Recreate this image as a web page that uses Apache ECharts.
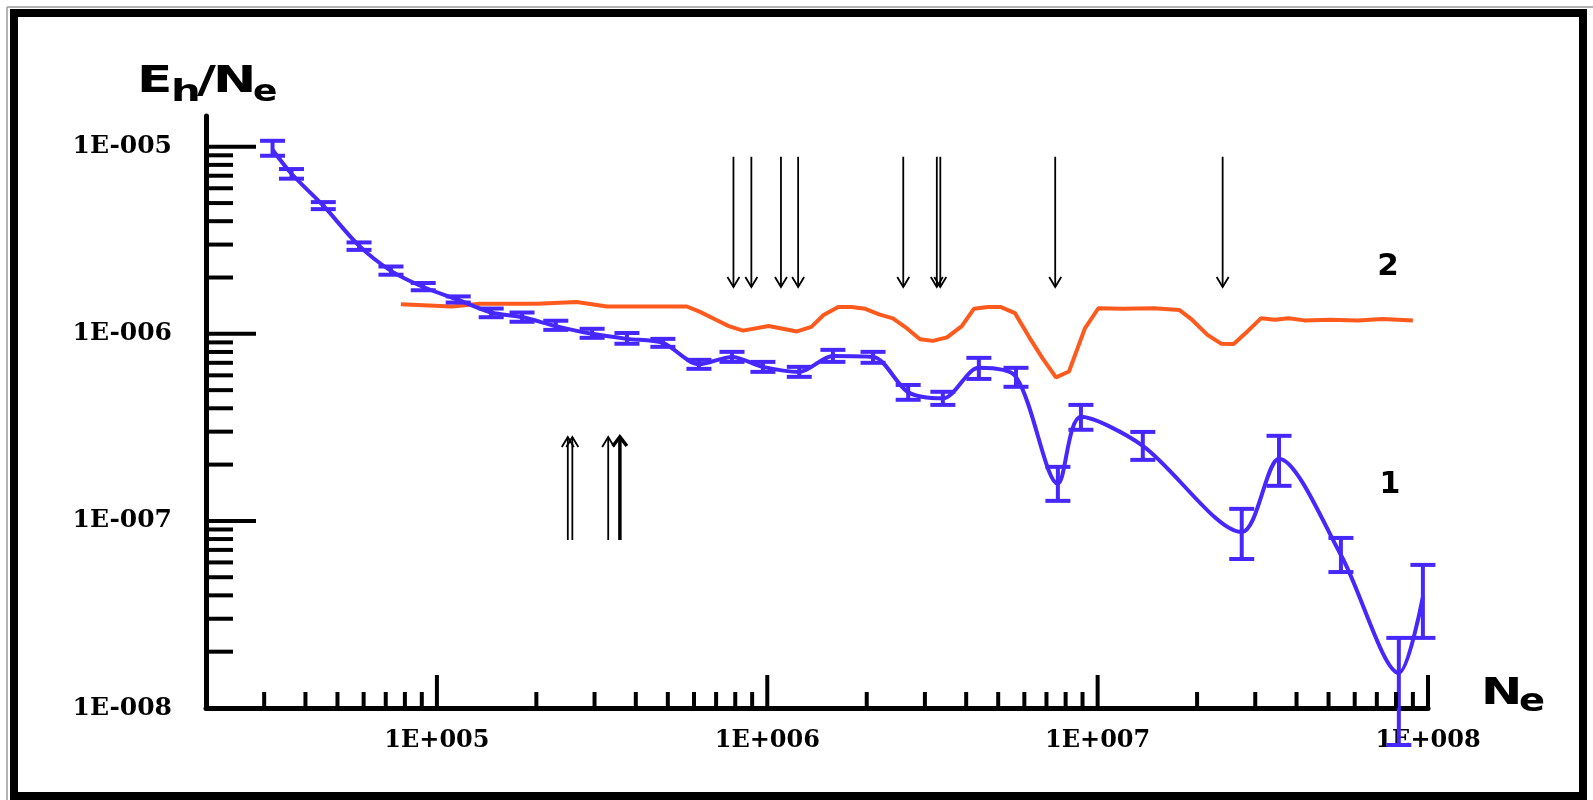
<!DOCTYPE html>
<html>
<head>
<meta charset="utf-8">
<script src="https://cdn.jsdelivr.net/npm/echarts@6/dist/echarts.min.js"></script>
<style>
html,body{margin:0;padding:0;background:#fff;}
#c{width:1593px;height:800px;}
</style>
</head>
<body>
<div id="c"></div>
<script>
// ---------------- data ----------------
const X_MIN = 2e4, X_MAX = 1e8;
const Y_MIN = 1e-8, Y_MAX = 1.46e-5;

// tick structure
const xMajorTicks = [1e5, 1e6, 1e7, 1e8];
const yMajorTicks = [1e-8, 1e-7, 1e-6, 1e-5];
const minorMultipliers = [2, 3, 4, 5, 6, 7, 8, 9];
const xMinorDecades = [1e4, 1e5, 1e6, 1e7];
const yMinorDecades = [1e-8, 1e-7, 1e-6];

// curve 1 (with error bars)
const blueN  = [3.18e4, 3.63e4, 4.53e4, 5.81e4, 7.26e4, 9.09e4, 1.16e5, 1.46e5, 1.81e5, 2.29e5,
                2.95e5, 3.76e5, 4.83e5, 6.21e5, 7.82e5, 9.70e5, 1.25e6, 1.58e6, 2.09e6, 2.67e6,
                3.40e6, 4.37e6, 5.66e6, 7.58e6, 8.90e6, 1.37e7, 2.73e7, 3.54e7, 5.45e7, 8.16e7, 9.65e7];
const blueV  = [9.64e-6, 7.17e-6, 4.84e-6, 2.96e-6, 2.17e-6, 1.78e-6, 1.52e-6, 1.30e-6, 1.23e-6, 1.10e-6,
                1.00e-6, 9.4e-7, 8.95e-7, 6.87e-7, 7.53e-7, 6.66e-7, 6.26e-7, 7.62e-7, 7.53e-7, 4.87e-7,
                4.52e-7, 6.58e-7, 5.89e-7, 1.58e-7, 3.60e-7, 2.52e-7, 8.72e-8, 2.15e-7, 6.58e-8, 1.54e-8, 3.93e-8];
const blueHi = [1.076e-5, 7.60e-6, 5.06e-6, 3.08e-6, 2.29e-6, 1.87e-6, 1.585e-6, 1.365e-6, 1.30e-6, 1.175e-6,
                1.064e-6, 1.01e-6, 9.4e-7, 7.26e-7, 8.01e-7, 7.08e-7, 6.66e-7, 8.21e-7, 8.01e-7, 5.33e-7,
                4.90e-7, 7.44e-7, 6.58e-7, 1.945e-7, 4.17e-7, 2.99e-7, 1.16e-7, 2.85e-7, 8.11e-8, 2.37e-8, 5.82e-8];
const blueLo = [8.95e-6, 6.75e-6, 4.64e-6, 2.81e-6, 2.07e-6, 1.71e-6, 1.47e-6, 1.227e-6, 1.16e-6, 1.05e-6,
                9.52e-7, 8.85e-7, 8.52e-7, 6.50e-7, 7.08e-7, 6.26e-7, 5.89e-7, 7.08e-7, 7.00e-7, 4.44e-7,
                4.17e-7, 5.74e-7, 5.21e-7, 1.28e-7, 3.07e-7, 2.12e-7, 6.26e-8, 1.54e-7, 5.33e-8, 6.34e-9, 2.37e-8];

// curve 2
const orangeN = [7.78e4, 1.11e5, 1.35e5, 2.01e5, 2.65e5, 3.27e5, 5.71e5, 6.26e5, 6.99e5, 7.65e5,
                 8.44e5, 1.01e6, 1.23e6, 1.36e6, 1.48e6, 1.64e6, 1.80e6, 1.98e6, 2.18e6, 2.40e6,
                 2.61e6, 2.90e6, 3.17e6, 3.50e6, 3.88e6, 4.22e6, 4.65e6, 5.10e6, 5.62e6, 6.19e6,
                 6.83e6, 7.48e6, 8.19e6, 9.15e6, 1.005e7, 1.19e7, 1.48e7, 1.77e7, 1.93e7, 2.15e7,
                 2.37e7, 2.58e7, 2.84e7, 3.12e7, 3.44e7, 3.79e7, 4.22e7, 5.06e7, 6.13e7, 7.27e7, 9.00e7];
const orangeV = [1.44e-6, 1.40e-6, 1.45e-6, 1.45e-6, 1.48e-6, 1.40e-6, 1.40e-6, 1.31e-6, 1.19e-6, 1.10e-6,
                 1.04e-6, 1.10e-6, 1.03e-6, 1.09e-6, 1.26e-6, 1.39e-6, 1.39e-6, 1.36e-6, 1.27e-6, 1.21e-6,
                 1.09e-6, 9.35e-7, 9.17e-7, 9.58e-7, 1.10e-6, 1.36e-6, 1.39e-6, 1.39e-6, 1.29e-6, 9.67e-7,
                 7.35e-7, 5.85e-7, 6.29e-7, 1.07e-6, 1.37e-6, 1.36e-6, 1.37e-6, 1.34e-6, 1.19e-6, 9.88e-7,
                 8.84e-7, 8.83e-7, 1.03e-6, 1.21e-6, 1.19e-6, 1.21e-6, 1.18e-6, 1.19e-6, 1.18e-6, 1.20e-6, 1.18e-6];

// arrows (N positions)
const downArrowN = [7.90e5, 8.95e5, 1.10e6, 1.24e6, 2.58e6, 3.26e6, 3.34e6, 7.44e6, 2.39e7];
const downArrowFrom = 8.84e-6, downArrowTo = 1.78e-6;
const upArrowN = [2.49e5, 2.57e5, 3.30e5, 3.58e5];
const upArrowFrom = 7.91e-8, upArrowTo = 2.81e-7;
const upArrowHeavy = [0, 0, 0, 1];

// ---------------- styling ----------------
const BLUE = '#4628ff';
const ORANGE = '#ff5a1e';

function expLabel(v) {
  const e = Math.log10(v);
  const r = Math.round(e);
  if (Math.abs(e - r) > 1e-6) return '';
  return '1E' + (r < 0 ? '-' : '+') + String(Math.abs(r)).padStart(3, '0');
}

const xTickData = [];
xMajorTicks.forEach(v => xTickData.push([v, Y_MIN, 1]));
xMinorDecades.forEach(d => minorMultipliers.forEach(m => {
  const v = d * m;
  if (v > X_MIN * 1.0001 && v < X_MAX) xTickData.push([v, Y_MIN, 0]);
}));
const yTickData = [];
yMajorTicks.forEach(v => yTickData.push([X_MIN, v, 1]));
yMinorDecades.forEach(d => minorMultipliers.forEach(m => yTickData.push([X_MIN, d * m, 0])));

const chart = echarts.init(document.getElementById('c'), null, {renderer: 'canvas'});

const labelStyle = {color: '#000', fontFamily: 'DejaVu Serif', fontWeight: 'bold'};

const option = {
  animation: false,
  backgroundColor: '#fff',
  grid: {left: 206, right: 165, top: 116, bottom: 92, containLabel: false, outerBoundsMode: 'none'},
  xAxis: {
    type: 'log', logBase: 10, min: X_MIN, max: X_MAX,
    axisLine: {show: true, lineStyle: {color: '#000', width: 5}},
    axisTick: {show: false},
    splitLine: {show: false},
    axisLabel: Object.assign({margin: 21, fontSize: 24, formatter: expLabel, showMinLabel: true, showMaxLabel: true}, labelStyle)
  },
  yAxis: {
    type: 'log', logBase: 10, min: Y_MIN, max: Y_MAX,
    axisLine: {show: true, lineStyle: {color: '#000', width: 5}},
    axisTick: {show: false},
    splitLine: {show: false},
    axisLabel: Object.assign({margin: 34, fontSize: 25, formatter: expLabel}, labelStyle)
  },
  series: [
    {
      name: '2', type: 'line', data: orangeN.map((n, i) => [n, orangeV[i]]),
      showSymbol: false, symbol: 'none', smooth: false, clip: false,
      lineStyle: {color: ORANGE, width: 4}, z: 3
    },
    {
      name: '1', type: 'line', data: blueN.map((n, i) => [n, blueV[i]]),
      showSymbol: false, symbol: 'none', smooth: 0.3, clip: false,
      lineStyle: {color: BLUE, width: 4}, z: 4
    },
    {
      name: 'errors', type: 'custom', clip: false, z: 5,
      data: blueN.map((n, i) => [n, blueLo[i], blueHi[i]]),
      encode: {x: 0, y: [1, 2]},
      renderItem: function (params, api) {
        const x = api.value(0);
        const lo = api.coord([x, api.value(1)]);
        const hi = api.coord([x, api.value(2)]);
        const hw = 12.5;
        const st = {stroke: BLUE, lineWidth: 4, fill: null};
        return {type: 'group', children: [
          {type: 'line', shape: {x1: lo[0], y1: lo[1], x2: hi[0], y2: hi[1]}, style: st},
          {type: 'line', shape: {x1: lo[0] - hw, y1: lo[1], x2: lo[0] + hw, y2: lo[1]}, style: st},
          {type: 'line', shape: {x1: hi[0] - hw, y1: hi[1], x2: hi[0] + hw, y2: hi[1]}, style: st}
        ]};
      }
    },
    {
      name: 'arrows', type: 'custom', clip: false, z: 6,
      data: downArrowN.map(n => [n, downArrowFrom, downArrowTo, 0])
        .concat(upArrowN.map((n, i) => [n, upArrowFrom, upArrowTo, upArrowHeavy[i]])),
      encode: {x: 0, y: [1, 2]},
      renderItem: function (params, api) {
        const x = api.value(0);
        const a = api.coord([x, api.value(1)]);
        const b = api.coord([x, api.value(2)]);
        const heavy = api.value(3) === 1;
        const dir = b[1] > a[1] ? 1 : -1;
        const hw = heavy ? 7 : 6, hh = heavy ? 9 : 10;
        const st = {stroke: '#000', lineWidth: heavy ? 3.5 : 1.8, fill: null};
        return {type: 'group', children: [
          {type: 'line', shape: {x1: a[0], y1: a[1], x2: b[0], y2: b[1]}, style: st},
          {type: 'polyline', shape: {points: [[b[0] - hw, b[1] - dir * hh], [b[0], b[1]], [b[0] + hw, b[1] - dir * hh]]}, style: st}
        ]};
      }
    },
    {
      name: 'xticks', type: 'custom', clip: false, z: 7,
      data: xTickData, encode: {x: 0, y: 1},
      renderItem: function (params, api) {
        const p = api.coord([api.value(0), api.value(1)]);
        const len = api.value(2) === 1 ? 33 : 16;
        return {type: 'rect', shape: {x: p[0] - 2, y: p[1] - len, width: 4, height: len}, style: {fill: '#000'}};
      }
    },
    {
      name: 'yticks', type: 'custom', clip: false, z: 7,
      data: yTickData, encode: {x: 0, y: 1},
      renderItem: function (params, api) {
        const p = api.coord([api.value(0), api.value(1)]);
        const len = api.value(2) === 1 ? 50 : 27;
        return {type: 'rect', shape: {x: p[0], y: p[1] - 2, width: len, height: 4}, style: {fill: '#000'}};
      }
    }
  ],
  graphic: [
    {type: 'line', shape: {x1: 7, y1: 7, x2: 7, y2: 800}, style: {stroke: '#9a9a9a', lineWidth: 1.5}, silent: true},
    {type: 'line', shape: {x1: 7, y1: 7, x2: 1593, y2: 7}, style: {stroke: '#9a9a9a', lineWidth: 1.5}, silent: true},
    {type: 'rect', shape: {x: 14, y: 13, width: 1569, height: 783}, style: {stroke: '#000', lineWidth: 8, fill: null}, silent: true},
    // y-axis title E_h/N_e
    {type: 'text', x: 137, y: 82.3, scaleX: 1.4, style: {text: 'E', fontFamily: 'DejaVu Sans', fontWeight: 'bold', fontSize: 37, fill: '#000', align: 'left', verticalAlign: 'middle'}},
    {type: 'text', x: 171, y: 92.8, scaleX: 1.35, style: {text: 'h', fontFamily: 'DejaVu Sans', fontWeight: 'bold', fontSize: 31, fill: '#000', align: 'left', verticalAlign: 'middle'}},
    {type: 'text', x: 197, y: 82.3, scaleX: 1.4, style: {text: '/', fontFamily: 'DejaVu Sans', fontWeight: 'bold', fontSize: 37, fill: '#000', align: 'left', verticalAlign: 'middle'}},
    {type: 'text', x: 213, y: 82.3, scaleX: 1.4, style: {text: 'N', fontFamily: 'DejaVu Sans', fontWeight: 'bold', fontSize: 37, fill: '#000', align: 'left', verticalAlign: 'middle'}},
    {type: 'text', x: 253, y: 93, scaleX: 1.2, style: {text: 'e', fontFamily: 'DejaVu Sans', fontWeight: 'bold', fontSize: 30, fill: '#000', align: 'left', verticalAlign: 'middle'}},
    // x-axis title N_e
    {type: 'text', x: 1481, y: 693.7, scaleX: 1.3, style: {text: 'N', fontFamily: 'DejaVu Sans', fontWeight: 'bold', fontSize: 38, fill: '#000', align: 'left', verticalAlign: 'middle'}},
    {type: 'text', x: 1519, y: 702.5, scaleX: 1.2, style: {text: 'e', fontFamily: 'DejaVu Sans', fontWeight: 'bold', fontSize: 32, fill: '#000', align: 'left', verticalAlign: 'middle'}},
    // curve labels
    {type: 'text', x: 1388, y: 267, style: {text: '2', fontFamily: 'DejaVu Sans', fontWeight: 'bold', fontSize: 31, fill: '#000', align: 'center', verticalAlign: 'middle'}},
    {type: 'text', x: 1390, y: 485, style: {text: '1', fontFamily: 'DejaVu Sans', fontWeight: 'bold', fontSize: 30, fill: '#000', align: 'center', verticalAlign: 'middle'}}
  ]
};

chart.setOption(option);
</script>
</body>
</html>
